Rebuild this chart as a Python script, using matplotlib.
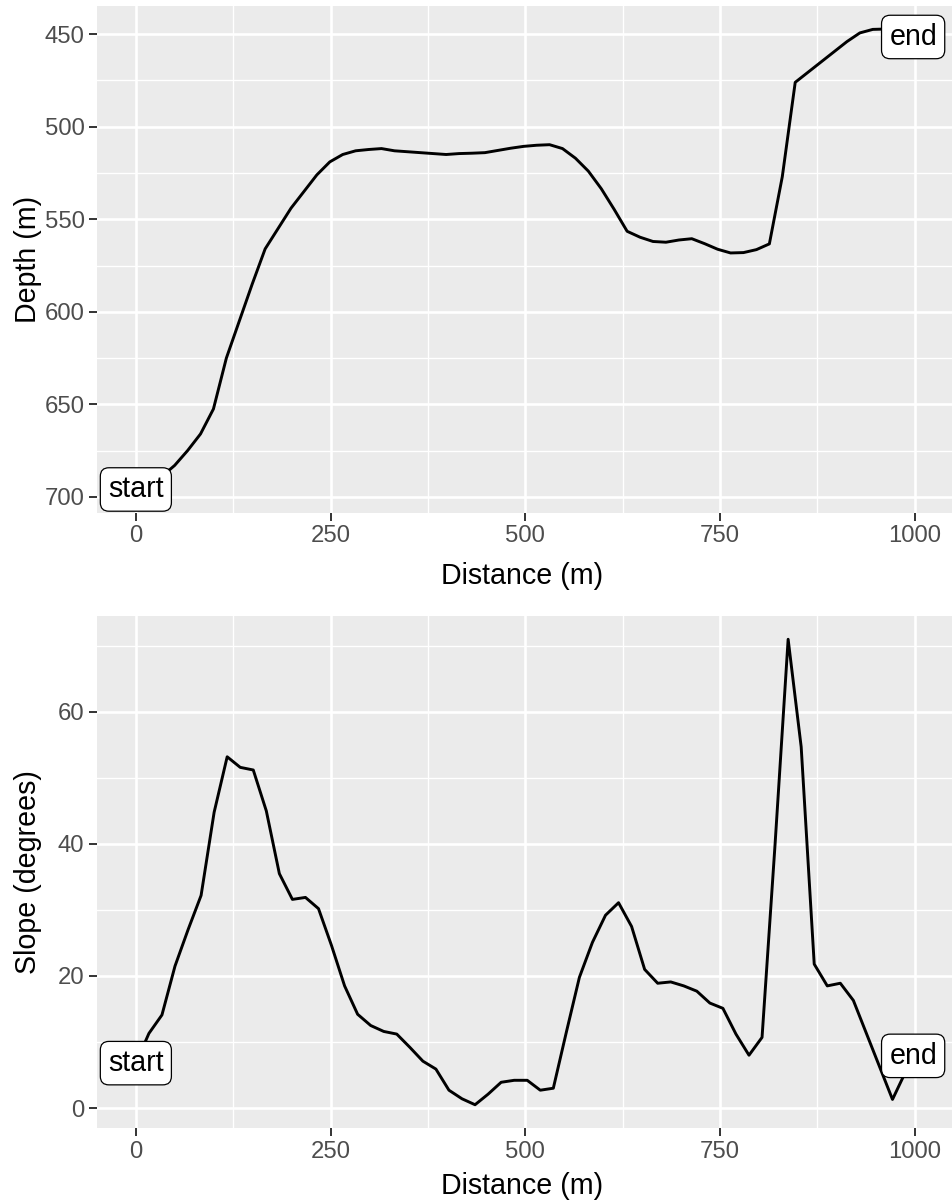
import matplotlib
matplotlib.use("Agg")
import matplotlib.pyplot as plt
from matplotlib.ticker import FixedLocator

# ---- data ----
depth_distance = [0, 16.6, 33.2, 49.8, 66.4, 83, 99.6, 116.2, 132.8, 149.4,
                  166, 182.6, 199.2, 215.8, 232.4, 249, 265.6, 282.2, 298.8, 315.4,
                  332, 348.6, 365.2, 381.8, 398.4, 415, 431.6, 448.2, 464.8, 481.4,
                  498, 514.6, 531.2, 547.8, 564.4, 581, 597.6, 614.2, 630.8, 647.4,
                  664, 680.6, 697.2, 713.8, 730.4, 747, 763.6, 780.2, 796.8, 813.4,
                  830, 846.6, 863.2, 879.8, 896.4, 913, 929.6, 946.2, 962.8, 979.4, 998]
depth = [696, 693, 689, 683, 675, 666, 652.5, 625, 605, 585,
         566, 555, 544, 535, 526, 519, 515, 513, 512.3, 511.8,
         513, 513.5, 514, 514.5, 515, 514.5, 514.3, 514, 512.8, 511.6,
         510.6, 510, 509.7, 511.8, 517, 524, 533.5, 544.7, 556.5, 559.7,
         562, 562.4, 561.2, 560.5, 563.2, 566.2, 568.2, 568, 566.4, 563.3,
         527, 476, 470.5, 465, 459.5, 454, 449.3, 447.4, 447.2, 449, 451.5]

slope_distance = [0, 16.75, 33.5, 50.25, 67, 83.75, 100.5, 117.25, 134, 150.75,
                  167.5, 184.25, 201, 217.75, 234.5, 251.25, 268, 284.75, 301.5, 318.25,
                  335, 351.75, 368.5, 385.25, 402, 418.75, 435.5, 452.25, 469, 485.75,
                  502.5, 519.25, 536, 552.75, 569.5, 586.25, 603, 619.75, 636.5, 653.25,
                  670, 686.75, 703.5, 720.25, 737, 753.75, 770.5, 787.25, 804, 820.75,
                  837.5, 854.25, 871, 887.75, 904.5, 921.25, 938, 954.75, 971.5, 998]
slope = [6.8, 11.3, 14.1, 21.5, 27.0, 32.2, 44.8, 53.2, 51.6, 51.2,
         45.0, 35.5, 31.6, 31.9, 30.2, 24.6, 18.5, 14.2, 12.5, 11.6,
         11.2, 9.2, 7.1, 5.9, 2.7, 1.4, 0.5, 2.1, 3.9, 4.2,
         4.2, 2.7, 3.0, 11.5, 19.8, 25.1, 29.2, 31.1, 27.5, 21.0,
         18.9, 19.1, 18.5, 17.7, 15.9, 15.1, 11.2, 8.0, 10.7, 40.0,
         71.0, 54.7, 21.8, 18.5, 18.9, 16.3, 11.3, 6.3, 1.3, 7.9]

x_ticks = [0, 250, 500, 750, 1000]
depth_ticks = [450, 500, 550, 600, 650, 700]
slope_ticks = [0, 20, 40, 60]
end_labels = ["start", "end"]

# ---- style ----
plt.rcParams['font.family'] = ['Liberation Sans', 'DejaVu Sans']
W, H = 952, 1203
fig = plt.figure(figsize=(W / 100, H / 100), dpi=100)

PANEL = "#EBEBEB"
TICKCOL = "#333333"
TLABCOL = "#4D4D4D"


def px_axes(left, top, right, bottom):
    return fig.add_axes([left / W, 1 - bottom / H, (right - left) / W, (bottom - top) / H])


def style(ax, yticks, yminor):
    ax.set_facecolor(PANEL)
    for s in ax.spines.values():
        s.set_visible(False)
    ax.xaxis.set_major_locator(FixedLocator(x_ticks))
    ax.xaxis.set_minor_locator(FixedLocator([125, 375, 625, 875]))
    ax.yaxis.set_major_locator(FixedLocator(yticks))
    ax.yaxis.set_minor_locator(FixedLocator(yminor))
    ax.grid(True, which="major", color="white", lw=1.9)
    ax.grid(True, which="minor", color="white", lw=0.95)
    ax.set_axisbelow(True)
    ax.tick_params(which="major", length=5.5, width=1.4, color=TICKCOL,
                   labelsize=17.2, labelcolor=TLABCOL, pad=3.5)
    ax.tick_params(which="minor", length=0)
    ax.margins(x=0.05, y=0.05)


bbox = dict(boxstyle="round,pad=0.27,rounding_size=0.3", fc="white", ec="black", lw=0.9)

# ---- top: depth ----
ax1 = px_axes(97, 6, 952, 512.5)
ax1.plot(depth_distance, depth, color="black", lw=2.1, solid_joinstyle="round")
style(ax1, depth_ticks, [475, 525, 575, 625, 675])
ax1.invert_yaxis()
ax1.set_xticklabels([str(t) for t in x_ticks])
ax1.set_yticklabels([str(t) for t in depth_ticks])
ax1.text(depth_distance[0], depth[0], end_labels[0], ha="center", va="center",
         fontsize=20.6, bbox=bbox, zorder=5)
ax1.text(depth_distance[-1], depth[-1], end_labels[1], ha="center", va="center",
         fontsize=20.6, bbox=bbox, zorder=5)
ax1.set_xlabel("Distance (m)", fontsize=20.6)
ax1.set_ylabel("Depth (m)", fontsize=20.6)
ax1.xaxis.set_label_coords((522 - 97) / 855, (512.5 - 576) / 506.5)
ax1.xaxis.label.set_va("center")
ax1.yaxis.set_label_coords((28 - 97) / 855, 0.5)
ax1.yaxis.label.set_va("center")

# ---- bottom: slope ----
ax2 = px_axes(97, 616, 952, 1128)
ax2.plot(slope_distance, slope, color="black", lw=2.1, solid_joinstyle="round")
style(ax2, slope_ticks, [10, 30, 50, 70])
ax2.set_xticklabels([str(t) for t in x_ticks])
ax2.set_yticklabels([str(t) for t in slope_ticks])
ax2.text(slope_distance[0], slope[0], end_labels[0], ha="center", va="center",
         fontsize=20.6, bbox=bbox, zorder=5)
ax2.text(slope_distance[-1], slope[-1], end_labels[1], ha="center", va="center",
         fontsize=20.6, bbox=bbox, zorder=5)
ax2.set_xlabel("Distance (m)", fontsize=20.6)
ax2.set_ylabel("Slope (degrees)", fontsize=20.6)
ax2.xaxis.set_label_coords((522 - 97) / 855, (1128 - 1186) / 512)
ax2.xaxis.label.set_va("center")
ax2.yaxis.set_label_coords((28 - 97) / 855, 0.5)
ax2.yaxis.label.set_va("center")

fig.savefig("out.png", dpi=100, facecolor="white")
